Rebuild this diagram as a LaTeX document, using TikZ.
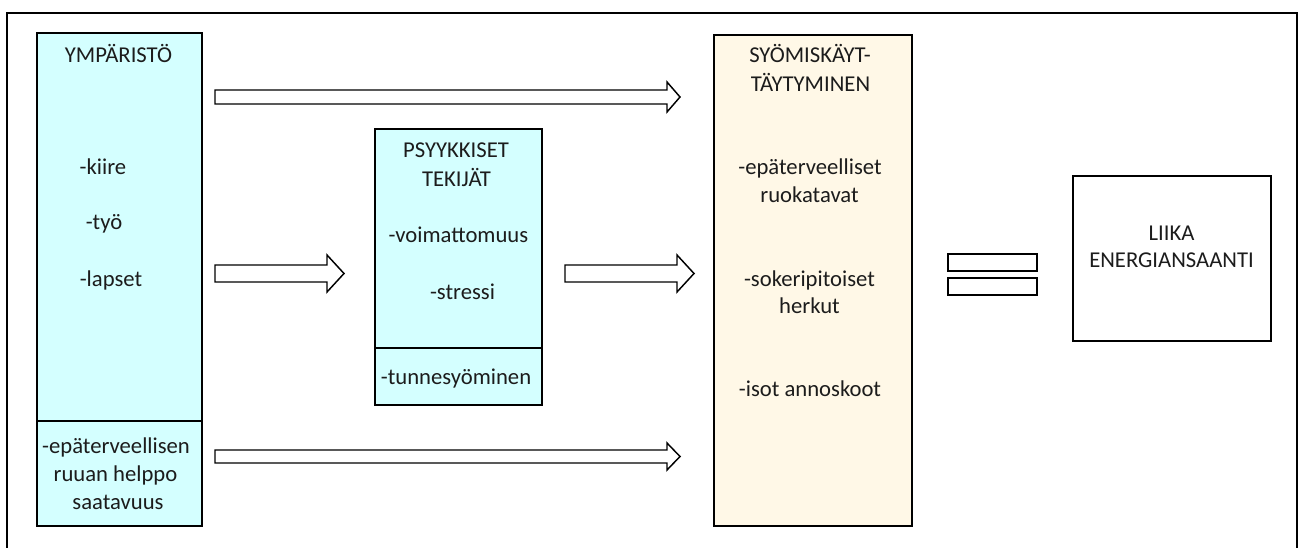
\documentclass[tikz,border=0pt]{standalone}
\usepackage{fontspec}
\setmainfont{Carlito}
\usetikzlibrary{calc}

\definecolor{envcyan}{RGB}{212,255,255}
\definecolor{eatcream}{RGB}{255,248,231}
\definecolor{inkgray}{RGB}{28,28,28}

% outlined block arrow: start, tip, shaft half, head half, head length
\newcommand{\fatarrow}[5]{%
  \draw[fatarrow] ($(#1)+(0,-#3)$) -- ($(#2)+(-#5,-#3)$) -- ($(#2)+(-#5,-#4)$)
    -- (#2) -- ($(#2)+(-#5,#4)$) -- ($(#2)+(-#5,#3)$) -- ($(#1)+(0,#3)$) -- cycle;}

\begin{document}
\begin{tikzpicture}[x=0.75pt,y=-0.75pt]
    \tikzset{box/.style = {draw, line width=1.5pt, inner sep=0pt}}
    \tikzset{envbox/.style = {box, fill=envcyan}}
    \tikzset{eatbox/.style = {box, fill=eatcream}}
    \tikzset{txt/.style = {anchor=base, inner sep=0pt, text=inkgray, font=\fontsize{17}{20}\selectfont}}
    \tikzset{fatarrow/.style = {draw, fill=white, line width=1.1pt, line join=miter}}
    \path[use as bounding box, clip] (0,0) rectangle (1299,548);
    \draw[line width=1.1pt] (7,13) rectangle (1297,570);
    % boxes
    \node[envbox, minimum width=165*0.75pt, minimum height=388*0.75pt] (env) at (119.5,227) {};
    \node[envbox, minimum width=165*0.75pt, minimum height=105*0.75pt] (envlow) at (119.5,473.5) {};
    \node[envbox, minimum width=167*0.75pt, minimum height=219*0.75pt] (psy) at (458.5,238.5) {};
    \node[envbox, minimum width=167*0.75pt, minimum height=57*0.75pt] (psylow) at (458.5,376.5) {};
    \node[eatbox, minimum width=198*0.75pt, minimum height=491*0.75pt] (eat) at (813,280.5) {};
    \node[box, minimum width=198*0.75pt, minimum height=165*0.75pt] (excess) at (1172,258.5) {};
    \node[box, line width=1.1pt, minimum width=89*0.75pt, minimum height=17*0.75pt] (eq1) at (992.5,262.5) {};
    \node[box, line width=1.1pt, minimum width=89*0.75pt, minimum height=17*0.75pt] (eq2) at (992.5,286.5) {};

    % texts
    \node[txt] (envt) at (118.5,63) {YMPÄRISTÖ};
    \node[txt] (envk) at (103,175) {-kiire};
    \node[txt] (envw) at (104,230) {-työ};
    \node[txt] (envc) at (111,287) {-lapset};
    \node[txt] (envl1) at (116,454) {-epäterveellisen};
    \node[txt] (envl2) at (115.5,482) {ruuan helppo};
    \node[txt] (envl3) at (118,509) {saatavuus};

    \node[txt] (psyt1) at (456,158) {PSYYKKISET};
    \node[txt] (psyt2) at (456.5,187) {TEKIJÄT};
    \node[txt] (psyv) at (458.5,243) {-voimattomuus};
    \node[txt] (psys) at (462.5,300) {-stressi};
    \node[txt] (psyl) at (456,385) {-tunnesyöminen};

    \node[txt] (eatt1) at (810,63) {SYÖMISKÄYT-};
    \node[txt] (eatt2) at (810.5,92) {TÄYTYMINEN};
    \node[txt] (eata1) at (810,175) {-epäterveelliset};
    \node[txt] (eata2) at (809.5,203) {ruokatavat};
    \node[txt] (eatb1) at (809.5,287) {-sokeripitoiset};
    \node[txt] (eatb2) at (809.5,314) {herkut};
    \node[txt] (eatc) at (810,397) {-isot annoskoot};

    \node[txt] (excesst1) at (1171.5,241) {LIIKA};
    \node[txt] (excesst2) at (1171.5,268) {ENERGIANSAANTI};

    %arrows
    \coordinate (a1s) at (215,97);    \coordinate (a1e) at (680,97);
    \coordinate (a2s) at (215,273.5); \coordinate (a2e) at (344,273.5);
    \coordinate (a3s) at (565,273.5); \coordinate (a3e) at (694,273.5);
    \coordinate (a4s) at (215,456.5); \coordinate (a4e) at (680,456.5);
    \fatarrow{a1s}{a1e}{7}{15}{13}
    \fatarrow{a2s}{a2e}{8.5}{18.5}{17}
    \fatarrow{a3s}{a3e}{8.5}{18.5}{17}
    \fatarrow{a4s}{a4e}{6.5}{13.5}{13}
\end{tikzpicture}
\end{document}
